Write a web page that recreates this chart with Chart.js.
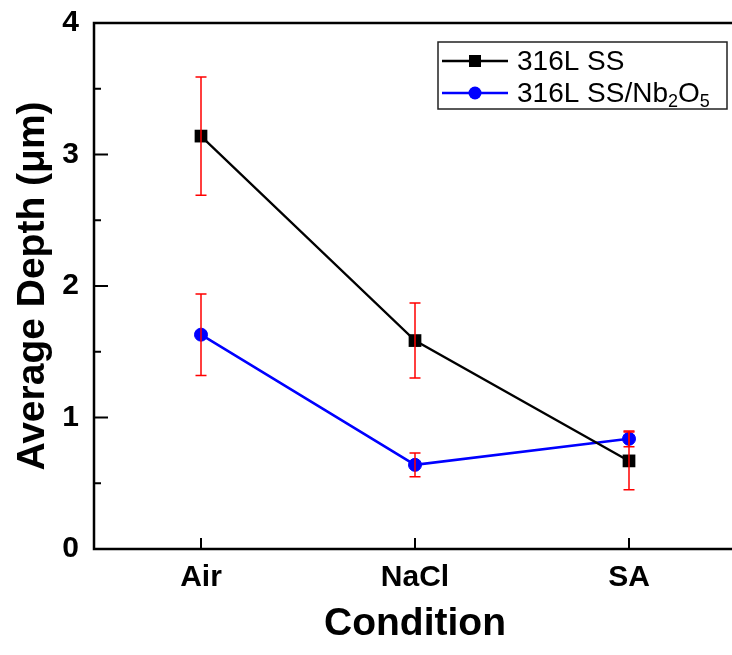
<!DOCTYPE html>
<html>
<head>
<meta charset="utf-8">
<script src="https://cdn.jsdelivr.net/npm/chart.js@4.4.1/dist/chart.umd.min.js"></script>
<style>
html,body{margin:0;padding:0;background:#fff;overflow:hidden;width:732px;height:655px;}
#wrap{position:absolute;left:0;top:0;width:745px;height:655px;}
</style>
</head>
<body>
<div id="wrap"><canvas id="c" width="745" height="655"></canvas></div>
<script>
// ---- data ----
const categories = ['Air', 'NaCl', 'SA'];
const seriesNames = ['316L SS', '316L SS/Nb₂O₅'];
const ssDepth = [3.14, 1.585, 0.67];
const ssError = [0.45, 0.285, 0.22];
const nbDepth = [1.63, 0.64, 0.838];
const nbError = [0.31, 0.09, 0.06];
const yTicks = [0, 1, 2, 3, 4];
const yMinorTicks = [0.5, 1.5, 2.5, 3.5];
const yTitle = 'Average Depth (μm)';
const xTitle = 'Condition';

const FONT = "'Liberation Sans', Arial, sans-serif";

const errorBars = {
  id: 'errorBars',
  afterDatasetsDraw(chart) {
    const ctx = chart.ctx;
    const y = chart.scales.y;
    ctx.save();
    ctx.strokeStyle = '#ff0000';
    ctx.lineWidth = 1.5;
    chart.data.datasets.forEach((ds, di) => {
      const meta = chart.getDatasetMeta(di);
      meta.data.forEach((pt, i) => {
        const v = ds.data[i], e = ds.errors[i];
        const x = pt.x;
        const yt = y.getPixelForValue(v + e), yb = y.getPixelForValue(v - e);
        ctx.beginPath();
        ctx.moveTo(x, yt); ctx.lineTo(x, yb);
        ctx.moveTo(x - 5.5, yt); ctx.lineTo(x + 5.5, yt);
        ctx.moveTo(x - 5.5, yb); ctx.lineTo(x + 5.5, yb);
        ctx.stroke();
      });
    });
    ctx.restore();
  }
};

const frame = {
  id: 'frame',
  afterDraw(chart) {
    const ctx = chart.ctx;
    const a = chart.chartArea;
    const xs = chart.scales.x, ys = chart.scales.y;
    ctx.save();
    ctx.strokeStyle = '#000';
    ctx.lineWidth = 2.5;
    ctx.beginPath();
    ctx.moveTo(a.right, a.top); ctx.lineTo(a.left, a.top);
    ctx.lineTo(a.left, a.bottom); ctx.lineTo(a.right, a.bottom);
    ctx.stroke();
    ctx.lineWidth = 2;
    ctx.beginPath();
    yTicks.forEach(t => {
      const p = ys.getPixelForValue(t);
      ctx.moveTo(a.left, p); ctx.lineTo(a.left + 14, p);
    });
    yMinorTicks.forEach(t => {
      const p = ys.getPixelForValue(t);
      ctx.moveTo(a.left, p); ctx.lineTo(a.left + 7, p);
    });
    categories.forEach((c, i) => {
      const p = xs.getPixelForValue(i);
      ctx.moveTo(p, a.bottom); ctx.lineTo(p, a.bottom - 11);
    });
    ctx.stroke();
    ctx.restore();
  }
};

const subMap = {'₀':'0','₁':'1','₂':'2','₃':'3','₄':'4','₅':'5','₆':'6','₇':'7','₈':'8','₉':'9'};
function drawRich(ctx, text, x, y, size) {
  let cx = x;
  for (const ch of text) {
    if (subMap[ch]) {
      ctx.font = `${Math.round(size * 0.65)}px ${FONT}`;
      ctx.fillText(subMap[ch], cx, y + size * 0.28);
      cx += ctx.measureText(subMap[ch]).width;
    } else {
      ctx.font = `${size}px ${FONT}`;
      ctx.fillText(ch, cx, y);
      cx += ctx.measureText(ch).width;
    }
  }
}

const legendBox = {
  id: 'legendBox',
  afterDraw(chart) {
    const ctx = chart.ctx;
    ctx.save();
    ctx.strokeStyle = '#222';
    ctx.lineWidth = 1.5;
    ctx.strokeRect(438, 42, 289, 67);
    const rows = [61, 93];
    chart.data.datasets.forEach((ds, i) => {
      const yy = rows[i];
      ctx.strokeStyle = ds.borderColor;
      ctx.lineWidth = ds.borderWidth;
      ctx.beginPath(); ctx.moveTo(442, yy); ctx.lineTo(508, yy); ctx.stroke();
      ctx.fillStyle = ds.borderColor;
      if (ds.pointStyle === 'rect') {
        ctx.fillRect(475 - 6, yy - 6, 12, 12);
      } else {
        ctx.beginPath(); ctx.arc(475, yy, 6.5, 0, Math.PI * 2); ctx.fill();
      }
      ctx.fillStyle = '#000';
      ctx.textBaseline = 'middle';
      ctx.textAlign = 'left';
      drawRich(ctx, ds.label, 517, yy + 1, 28);
    });
    ctx.restore();
  }
};

new Chart(document.getElementById('c'), {
  type: 'line',
  data: {
    labels: categories,
    datasets: [
      {
        label: seriesNames[0], data: ssDepth, errors: ssError,
        borderColor: '#000000', backgroundColor: '#000000', borderWidth: 2.3,
        pointStyle: 'rect', pointRadius: 9, pointBorderWidth: 0, tension: 0
      },
      {
        label: seriesNames[1], data: nbDepth, errors: nbError,
        borderColor: '#0000ff', backgroundColor: '#0000ff', borderWidth: 2.5,
        pointStyle: 'circle', pointRadius: 6.5, pointBorderWidth: 1, tension: 0
      }
    ]
  },
  options: {
    responsive: false,
    animation: false,
    events: [],
    layout: { padding: { left: 0, top: 23, right: 0, bottom: 0 } },
    plugins: { legend: { display: false }, tooltip: { enabled: false } },
    scales: {
      x: {
        type: 'category', offset: true,
        grid: { display: false, drawTicks: false }, border: { display: false },
        ticks: { color: '#000', padding: 11, font: { family: FONT, size: 30, weight: 'bold' } },
        title: { display: true, text: xTitle, color: '#000', padding: { top: 0, bottom: 7 },
                 font: { family: FONT, size: 39, weight: 'bold' } },
        afterFit(s) { s.height = 106; s.paddingLeft = 0; s.paddingRight = 0; }
      },
      y: {
        min: 0, max: 4,
        grid: { display: false, drawTicks: false }, border: { display: false },
        ticks: { stepSize: 1, color: '#000', padding: 15, font: { family: FONT, size: 30, weight: 'bold' },
                 callback: (v) => yTicks.includes(v) ? String(v) : '' },
        title: { display: true, text: yTitle, color: '#000', padding: { top: 10, bottom: 0 },
                 font: { family: FONT, size: 39, weight: 'bold' } },
        afterFit(s) { s.width = 94; s.paddingTop = 0; s.paddingBottom = 0; }
      }
    }
  },
  plugins: [errorBars, frame, legendBox]
});
</script>
</body>
</html>
